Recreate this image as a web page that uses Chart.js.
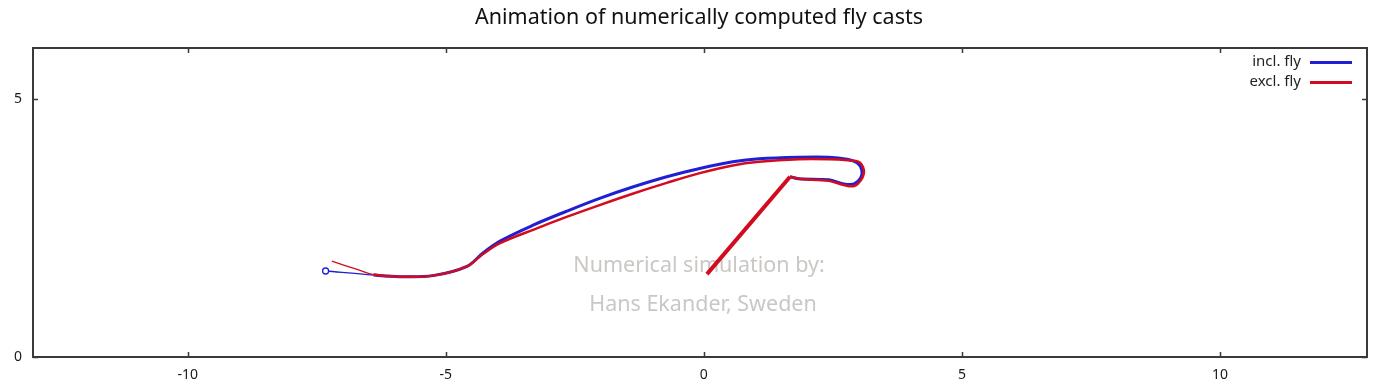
<!DOCTYPE html>
<html>
<head>
<meta charset="utf-8">
<title>Fly casts</title>
<script src="https://cdn.jsdelivr.net/npm/chart.js@4.4.1/dist/chart.umd.min.js"></script>
<style>
  html, body { margin: 0; padding: 0; background: #fff; }
  #wrap { width: 1381px; height: 387px; }
</style>
</head>
<body>
<div id="wrap"><canvas id="castChart" width="1381" height="387"></canvas></div>
<script>
// ---- data ----
const rodX = [0.06, 1.67];
const rodY = [1.61, 3.50];

const inclFlyX = [1.67, 1.84, 2.42, 2.71, 2.91, 3.04, 3.06, 2.97, 2.77, 2.42, 1.84, 1.07, 0.56, -0.08, -0.72, -1.38, -2.02, -2.66, -3.31, -3.95, -4.28, -4.59, -5.25, -5.89, -6.40, -7.33];
const inclFlyY = [3.50, 3.46, 3.44, 3.36, 3.36, 3.48, 3.63, 3.77, 3.84, 3.88, 3.88, 3.85, 3.79, 3.66, 3.50, 3.30, 3.08, 2.83, 2.56, 2.25, 2.02, 1.76, 1.58, 1.56, 1.59, 1.67];

const exclFlyX = [1.67, 1.84, 2.42, 2.71, 2.91, 3.06, 3.10, 3.00, 2.79, 2.42, 1.84, 1.07, 0.56, -0.08, -0.72, -1.38, -2.02, -2.66, -3.31, -3.95, -4.28, -4.59, -5.25, -5.89, -6.40, -6.69, -7.21];
const exclFlyY = [3.50, 3.46, 3.42, 3.34, 3.32, 3.46, 3.63, 3.79, 3.82, 3.84, 3.84, 3.79, 3.72, 3.57, 3.38, 3.17, 2.95, 2.72, 2.47, 2.21, 2.00, 1.76, 1.58, 1.56, 1.60, 1.69, 1.86];

const xTicks = [-10, -5, 0, 5, 10];
const yTicks = [0, 5];
const legendLabels = ["incl. fly", "excl. fly"];
const titleText = "Animation of numerically computed fly casts";
const creditLines = ["Numerical simulation by:", "Hans Ekander, Sweden"];

const BLUE = "#2020d2";
const RED = "#d20c1e";

function pairs(xs, ys) {
  return xs.map((x, i) => ({ x: x, y: ys[i] }));
}

// thin line for the fly end of the cast
function flyWidth(thick) {
  return ctx => (ctx.p1.parsed.x < -6.45 ? 1.3 : thick);
}

/* =========================
   DECORATION PLUGIN
========================= */

const decor = {
  id: "decor",
  beforeDatasetsDraw(chart) {
    const c = chart.ctx;
    c.save();
    c.fillStyle = "#cac7c4";
    c.font = "21.5px 'Noto Sans'";
    c.textAlign = "center";
    c.textBaseline = "middle";
    c.fillText(creditLines[0], 699, 266);
    c.fillText(creditLines[1], 703, 305);
    c.restore();
  },
  afterDraw(chart) {
    const c = chart.ctx;
    const a = chart.chartArea;
    const xs = chart.scales.x, ys = chart.scales.y;
    c.save();

    // frame
    c.strokeStyle = "#3a3a3a";
    c.lineWidth = 2;
    c.strokeRect(a.left, a.top, a.right - a.left, a.bottom - a.top);

    // inward tick marks
    c.lineWidth = 1.5;
    c.beginPath();
    xTicks.forEach(v => {
      const px = Math.round(xs.getPixelForValue(v)) + 0.5;
      c.moveTo(px, a.bottom); c.lineTo(px, a.bottom - 5);
      c.moveTo(px, a.top); c.lineTo(px, a.top + 5);
    });
    yTicks.forEach(v => {
      const py = Math.round(ys.getPixelForValue(v)) + 0.5;
      c.moveTo(a.left, py); c.lineTo(a.left + 5, py);
      c.moveTo(a.right, py); c.lineTo(a.right - 5, py);
    });
    c.stroke();

    // title
    c.fillStyle = "#111";
    c.font = "21.5px 'Noto Sans'";
    c.textAlign = "center";
    c.textBaseline = "middle";
    c.fillText(titleText, 699, 18);

    // legend
    c.font = "15px 'Noto Sans'";
    c.textAlign = "right";
    [BLUE, RED].forEach((col, i) => {
      const y = 62 + i * 20;
      c.fillStyle = "#222";
      c.fillText(legendLabels[i], 1301, y);
      c.strokeStyle = col;
      c.lineWidth = 3;
      c.beginPath();
      c.moveTo(1310, y + 0.5);
      c.lineTo(1352, y + 0.5);
      c.stroke();
    });
    c.restore();
  }
};

/* =========================
   CHART
========================= */

new Chart(document.getElementById("castChart"), {
  type: "scatter",
  data: {
    datasets: [
      {
        label: "rod",
        data: pairs(rodX, rodY),
        showLine: true,
        borderColor: RED,
        borderWidth: 4,
        pointRadius: 0,
        tension: 0,
        order: 0
      },
      {
        label: legendLabels[1],
        data: pairs(exclFlyX, exclFlyY),
        showLine: true,
        borderColor: RED,
        borderWidth: 2.5,
        segment: { borderWidth: flyWidth(2.5) },
        pointRadius: 0,
        tension: 0.35,
        order: 1
      },
      {
        label: legendLabels[0],
        data: pairs(inclFlyX, inclFlyY),
        showLine: true,
        borderColor: BLUE,
        borderWidth: 3,
        segment: { borderWidth: flyWidth(3) },
        pointRadius: ctx => (ctx.dataIndex === inclFlyX.length - 1 ? 3 : 0),
        pointBorderColor: BLUE,
        pointBackgroundColor: "#fff",
        pointBorderWidth: 1.3,
        tension: 0.35,
        order: 2
      }
    ]
  },
  options: {
    responsive: false,
    animation: false,
    layout: { padding: { top: 48, right: 14, left: 0, bottom: 0 } },
    plugins: {
      legend: { display: false },
      title: { display: false },
      tooltip: { enabled: false }
    },
    scales: {
      x: {
        type: "linear",
        min: -13,
        max: 12.85,
        grid: { display: false, drawTicks: false },
        border: { display: false },
        afterBuildTicks: s => { s.ticks = xTicks.map(v => ({ value: v })); },
        afterFit: s => { s.height = 30; },
        ticks: {
          padding: 10,
          color: "#1a1a1a",
          font: { family: "'Noto Sans'", size: 14 }
        }
      },
      y: {
        type: "linear",
        min: 0,
        max: 6,
        grid: { display: false, drawTicks: false },
        border: { display: false },
        afterBuildTicks: s => { s.ticks = yTicks.map(v => ({ value: v })); },
        afterFit: s => { s.width = 33; },
        ticks: {
          padding: 11,
          color: "#1a1a1a",
          font: { family: "'Noto Sans'", size: 14 }
        }
      }
    }
  },
  plugins: [decor]
});
</script>
</body>
</html>
